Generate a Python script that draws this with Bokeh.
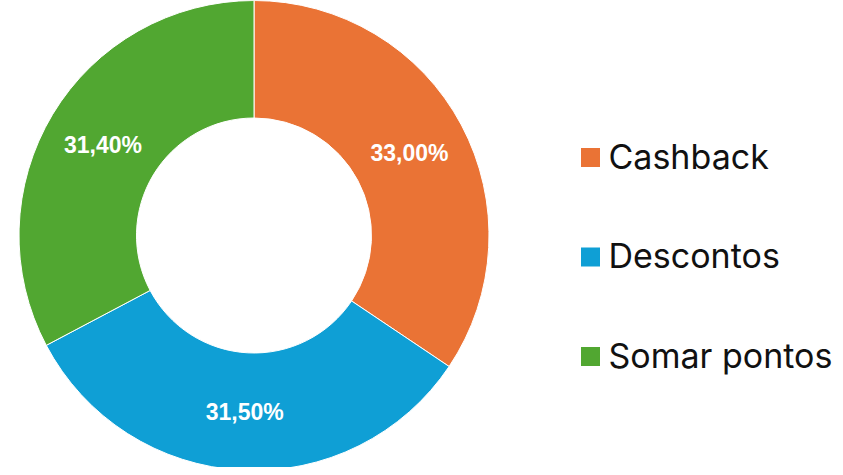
import math
from bokeh.plotting import figure
from bokeh.models import Range1d, ColumnDataSource
from bokeh.core.properties import value
from bokeh.embed import file_html
from bokeh.resources import INLINE

categories = ["Cashback", "Descontos", "Somar pontos"]
values = [33.00, 31.50, 31.40]
labels = ["33,00%", "31,50%", "31,40%"]
colors = ["#EA7335", "#0F9FD5", "#51A731"]

W, H = 840, 467
CX, CY = 253.5, H - 235
R_OUT, R_IN = 235, 117.5

total = sum(values)
starts, ends, lx, ly = [], [], [], []
acc = 0.0
rmid = (R_OUT + R_IN) / 2
for v in values:
    a0 = math.pi / 2 - 2 * math.pi * acc / total
    a1 = math.pi / 2 - 2 * math.pi * (acc + v) / total
    starts.append(a0)
    ends.append(a1)
    am = (a0 + a1) / 2
    lx.append(CX + rmid * math.cos(am))
    ly.append(CY + rmid * math.sin(am))
    acc += v

src = ColumnDataSource(dict(start=starts, end=ends, color=colors, lx=lx, ly=ly,
                            label=labels, cat=categories,
                            gx=[590] * 3, gy=[H - 157 - 99.5 * i for i in range(3)],
                            tx=[608] * 3, ty=[H - 155.5 - 99.5 * i for i in range(3)]))

p = figure(width=W, height=H, output_backend="svg", toolbar_location=None,
           x_range=Range1d(0, W), y_range=Range1d(0, H), min_border=0)
p.axis.visible = False
p.grid.visible = False
p.outline_line_color = None
p.background_fill_color = "white"
p.border_fill_color = "white"

p.annular_wedge(x=CX, y=CY, inner_radius=R_IN, outer_radius=R_OUT,
                inner_radius_units="screen", outer_radius_units="screen",
                start_angle="start", end_angle="end", direction="clock",
                fill_color="color", line_color="white", line_width=1, source=src)

p.text(x="lx", y="ly", text="label", source=src, text_color="white",
       text_font=value("Liberation Sans"), text_font_style="bold",
       text_font_size="23px", text_align="center", text_baseline="middle")

p.scatter(x="gx", y="gy", marker="square", size=19, fill_color="color",
          line_color=None, source=src)
p.text(x="tx", y="ty", text="cat", source=src, text_color="#111111",
       text_font=value("Inter"), text_font_size="34px",
       text_align="left", text_baseline="middle")

open("out.html", "w").write(file_html(p, INLINE))
